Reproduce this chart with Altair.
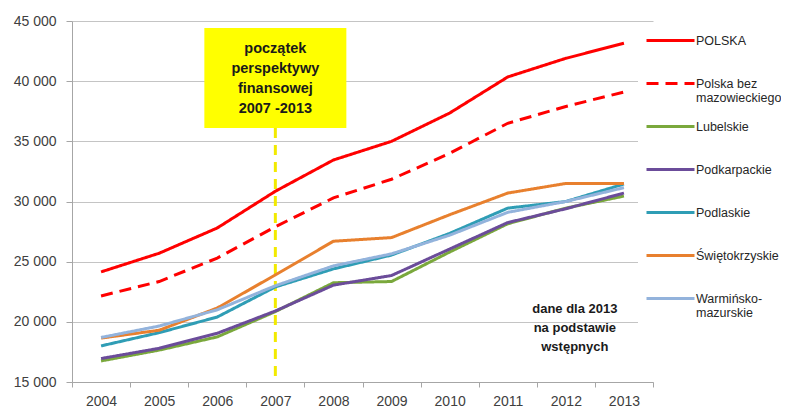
import altair as alt
import pandas as pd

years = ["2004", "2005", "2006", "2007", "2008", "2009", "2010", "2011", "2012", "2013"]
series_names = ["POLSKA", "Polska bez mazowieckiego", "Lubelskie", "Podkarpackie",
                "Podlaskie", "Świętokrzyskie", "Warmińsko-mazurskie"]
polska = [24150, 25700, 27800, 30850, 33450, 35000, 37350, 40350, 41900, 43150]
polska_bez = [22150, 23350, 25300, 27900, 30300, 31850, 34000, 36500, 37900, 39100]
lubelskie = [16750, 17650, 18750, 20850, 23250, 23350, 25800, 28150, 29450, 30450]
podkarpackie = [16950, 17800, 19050, 20900, 23050, 23850, 26050, 28250, 29400, 30700]
podlaskie = [18000, 19100, 20400, 22900, 24400, 25550, 27350, 29450, 30000, 31450]
swietokrzyskie = [18650, 19300, 21150, 23900, 26700, 27000, 28900, 30700, 31500, 31500]
warminsko = [18700, 19650, 21000, 23000, 24650, 25650, 27200, 29100, 30000, 31150]
series_values = [polska, polska_bez, lubelskie, podkarpackie, podlaskie, swietokrzyskie, warminsko]

colors = ["#ff0000", "#ff0000", "#7aa83c", "#6b4c9a", "#2f9db5", "#e8802e", "#93b3dc"]
dashes = [[1, 0], [12, 7], [1, 0], [1, 0], [1, 0], [1, 0], [1, 0]]

y_ticks = [15000, 20000, 25000, 30000, 35000, 40000, 45000]

box_text = ["początek", "perspektywy", "finansowej", "2007 -2013"]
note_text = ["dane dla 2013", "na podstawie", "wstępnych"]

rows = []
for name, vals in zip(series_names, series_values):
    for yr, v in zip(years, vals):
        rows.append({"rok": yr, "seria": name, "wartosc": v})
df = pd.DataFrame(rows)

x_scale = alt.Scale(type="band", domain=years, paddingInner=0, paddingOuter=0)
y_scale = alt.Scale(domain=[15000, 45000], nice=False, zero=False)

label_expr = ("datum.label == 'Polska bez mazowieckiego' ? ['Polska bez', 'mazowieckiego'] : "
              "datum.label == 'Warmińsko-mazurskie' ? ['Warmińsko-', 'mazurskie'] : datum.label")


def make_legend():
    return alt.Legend(title=None, orient="none", legendX=566, legendY=5,
                      symbolType="M-1,0H7", symbolSize=144, symbolStrokeWidth=3,
                      labelFontSize=12.5, labelColor="#262626",
                      labelFont="Liberation Sans", labelOffset=36,
                      labelBaseline="middle", labelLimit=200, gridAlign="all",
                      rowPadding=14, padding=7, fillColor="white",
                      labelExpr=label_expr)


lines = alt.Chart(df).mark_line(strokeWidth=3).encode(
    x=alt.X("rok:O", scale=x_scale, title=None,
            axis=alt.Axis(labelAngle=0, labelAlign="center", tickBand="extent", grid=False,
                          tickSize=5, labelPadding=14)),
    y=alt.Y("wartosc:Q", scale=y_scale, title=None,
            axis=alt.Axis(values=y_ticks, grid=True, tickSize=6, labelPadding=10,
                          labelExpr="replace(format(datum.value, ','), ',', ' ')")),
    color=alt.Color("seria:N", scale=alt.Scale(domain=series_names, range=colors),
                    legend=make_legend()),
    strokeDash=alt.StrokeDash("seria:N", scale=alt.Scale(domain=series_names, range=dashes),
                              legend=make_legend()),
)

box_df = pd.DataFrame({"rok": ["2007"], "y0": [44420], "y1": [36100], "yt": [42670],
                       "txt": [box_text]})
box = alt.Chart(box_df).mark_bar(color="#ffff00", width=142).encode(
    x=alt.X("rok:O", scale=x_scale), y="y0:Q", y2="y1:Q")
box_lbl = alt.Chart(box_df).mark_text(font="Liberation Sans", fontSize=14.5, fontWeight="bold",
                                      color="#1a1a1a", baseline="middle", lineHeight=20).encode(
    x=alt.X("rok:O", scale=x_scale), y="yt:Q", text="txt")

rule_df = pd.DataFrame({"rok": ["2007"], "y0": [36100], "y1": [15000]})
rule = alt.Chart(rule_df).mark_rule(color="#f2ea00", strokeWidth=3, strokeDash=[10, 7]).encode(
    x=alt.X("rok:O", scale=x_scale), y="y0:Q", y2="y1:Q")

note_df = pd.DataFrame({"rok": ["2012"], "yt": [21060], "txt": [note_text]})
note = alt.Chart(note_df).mark_text(font="Liberation Sans", fontSize=13, fontWeight="bold",
                                    color="#1a1a1a", baseline="middle", lineHeight=19, dx=9).encode(
    x=alt.X("rok:O", scale=x_scale), y="yt:Q", text="txt")

chart = alt.layer(rule, lines, box, box_lbl, note).properties(
    width=581, height=361,
    autosize=alt.AutoSizeParams(type="none"),
    padding={"left": 64, "top": 13, "right": 128, "bottom": 30},
).configure_view(stroke=None).configure_axis(
    labelFont="Liberation Sans", labelFontSize=14, labelColor="#404040",
    domainColor="#a6a6a6", tickColor="#a6a6a6", gridColor="#c4c4c4",
)

chart.save("out.html", embed_options={"renderer": "svg", "actions": False})
